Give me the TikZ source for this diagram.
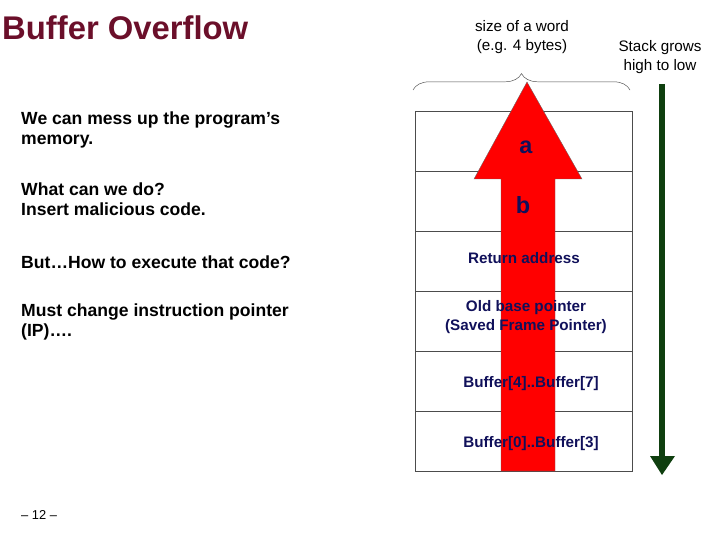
\documentclass[tikz,border=0pt]{standalone}
\usepackage{fontspec}
\setmainfont{Liberation Sans}
\usetikzlibrary{decorations.pathreplacing}
\definecolor{navy}{HTML}{10105A}
\definecolor{titlered}{HTML}{6B0F2A}
\definecolor{dgreen}{HTML}{0F3F0F}
\begin{document}
\begin{tikzpicture}[x=0.03cm,y=-0.03cm,
  lt/.style={anchor=north west,align=left,font=\fontsize{15}{17}\selectfont\bfseries,inner sep=0},
  st/.style={font=\fontsize{13}{16}\selectfont\bfseries,text=navy,align=center,inner sep=0},
  cell/.style={draw=black!70,line width=0.5pt}]
\useasboundingbox (0,0) rectangle (720,540);
\node[anchor=west,text=titlered,font=\fontsize{28}{30}\selectfont\bfseries,inner sep=0] (title) at (2,28) {Buffer Overflow};
\node[lt] (t1) at (21,112) {We can mess up the program’s\\memory.};
\node[lt] (t2) at (21,183) {What can we do?\\Insert malicious code.};
\node[lt] (t3) at (21,256) {But…How to execute that code?};
\node[lt] (t4) at (21,304) {Must change instruction pointer\\(IP)….};
\node[anchor=west,font=\fontsize{11}{13}\selectfont,inner sep=0] (pg) at (21,515) {– 12 –};
\node[align=center,font=\fontsize{13}{16}\selectfont,inner sep=0] (word) at (522,37) {size of a word\\(e.g. 4 bytes)};
\node[align=center,font=\fontsize{13}{16}\selectfont,inner sep=0] (grow) at (660,57) {Stack grows\\high to low};
% cells
\foreach \i in {0,...,5}{
  \draw[cell] (415,{111+60*\i}) rectangle (632,{171+60*\i});
}
\draw[decorate,decoration={brace,amplitude=14pt},draw=black!70] (413,90) -- (630,90);
% red arrow
\fill[red,draw=black!60,line width=0.3pt] (501,471) -- (501,179) -- (474,179) -- (527,82) -- (582,179) -- (555,179) -- (555,471) -- cycle;
% green arrow
\coordinate (gs) at (662,84);
\coordinate (ge) at (662,475);
\draw[dgreen,line width=5pt] (gs) -- (662,456);
\fill[dgreen] (650,456) -- (675,456) -- (ge) -- cycle;
% stack texts
\node[st,font=\fontsize{20}{22}\selectfont\bfseries] (a) at (526,147) {a};
\node[st,font=\fontsize{20}{22}\selectfont\bfseries] (b) at (523,205) {b};
\node[st] (ra) at (524,258) {Return address};
\node[st] (ob) at (526,317) {Old base pointer\\(Saved Frame Pointer)};
\node[st] (b47) at (531,384) {Buffer[4]..Buffer[7]};
\node[st] (b03) at (531,444) {Buffer[0]..Buffer[3]};
\end{tikzpicture}
\end{document}
